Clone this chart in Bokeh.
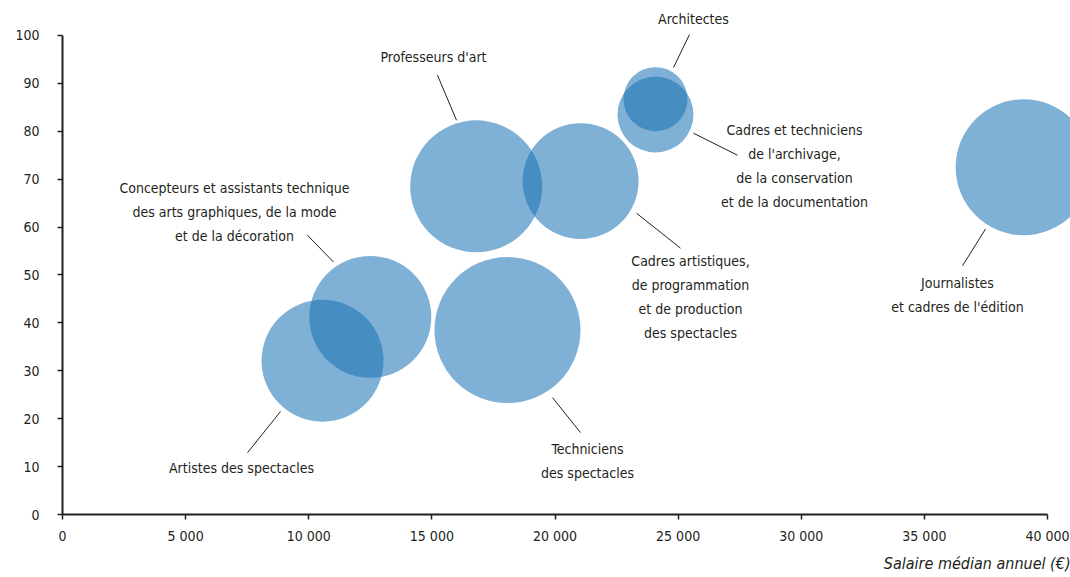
from bokeh.plotting import figure
from bokeh.models import Range1d, FixedTicker, ColumnDataSource, Title
from bokeh.core.properties import value
from bokeh.embed import file_html
from bokeh.resources import INLINE

# ---- data ----
categories = [
    "Artistes des spectacles",
    "Concepteurs et assistants technique des arts graphiques, de la mode et de la décoration",
    "Professeurs d'art",
    "Cadres artistiques, de programmation et de production des spectacles",
    "Techniciens des spectacles",
    "Architectes",
    "Cadres et techniciens de l'archivage, de la conservation et de la documentation",
    "Journalistes et cadres de l'édition",
]
salaire = [10560, 12500, 16800, 21040, 18070, 24080, 24080, 39030]
part = [32.1, 41.25, 68.5, 69.6, 38.5, 86.7, 83.5, 72.5]
rayon = [2477, 2477, 2680, 2355, 2965, 1300, 1543, 2761]

x_ticks = [0, 5000, 10000, 15000, 20000, 25000, 30000, 35000, 40000]
x_tick_labels = ["0", "5 000", "10 000", "15 000", "20 000", "25 000", "30 000", "35 000", "40 000"]
y_ticks = [0, 10, 20, 30, 40, 50, 60, 70, 80, 90, 100]

# label text lines, anchor (data coords) and leader lines (data coords)
label_lines = [
    ["Artistes des spectacles"],
    ["Concepteurs et assistants technique", "des arts graphiques, de la mode", "et de la décoration"],
    ["Professeurs d'art"],
    ["Cadres artistiques,", "de programmation", "et de production", "des spectacles"],
    ["Techniciens", "des spectacles"],
    ["Architectes"],
    ["Cadres et techniciens", "de l'archivage,", "de la conservation", "et de la documentation"],
    ["Journalistes", "et cadres de l'édition"],
]
label_x = [7269, 6985, 15066, 25503, 21320, 25624, 29726, 36345]
label_y = [9.8, 63.1, 95.6, 45.4, 11.25, 103.5, 72.7, 45.8]
leader_x0 = [8853, 9949, 15228, 23310, 19898, 25462, 25624, 37482]
leader_y0 = [21.5, 58.3, 91.7, 62.9, 24.4, 100.2, 79.6, 59.6]
leader_x1 = [7513, 11005, 16000, 25096, 21036, 24812, 27411, 36548]
leader_y1 = [12.9, 52.7, 82.3, 55.6, 17.1, 93.3, 75.0, 51.9]

FONT = "DejaVu Sans Condensed"
DARK = "#231f20"
LINE_STEP = 5.0  # vertical spacing between text lines, in y units

p = figure(width=1070, height=577, output_backend="svg", toolbar_location=None,
           x_range=Range1d(0, 40934), y_range=Range1d(0, 107.3),
           min_border_left=62, min_border_right=0, min_border_top=0, min_border_bottom=62)
p.outline_line_color = None
p.grid.visible = False
p.background_fill_color = "white"
p.border_fill_color = "white"

src = ColumnDataSource(dict(x=salaire, y=part, r=rayon, cat=categories))
p.circle(x="x", y="y", radius="r", radius_dimension="x", source=src,
         fill_color="#1971b3", fill_alpha=0.555, line_color=None)

p.segment(x0=leader_x0, y0=leader_y0, x1=leader_x1, y1=leader_y1,
          line_color=DARK, line_width=1)

tx, ty, tt = [], [], []
for lines, cx, cy in zip(label_lines, label_x, label_y):
    n = len(lines)
    for i, s in enumerate(lines):
        tx.append(cx)
        ty.append(cy + (n - 1) / 2 * LINE_STEP - i * LINE_STEP)
        tt.append(s)
p.text(x=tx, y=ty, text=tt, text_align="center", text_baseline="middle",
       text_font=value(FONT), text_font_size="14px", text_color=DARK)

for ax in (p.xaxis[0], p.yaxis[0]):
    ax.axis_line_color = DARK
    ax.axis_line_width = 2
    ax.major_tick_line_color = DARK
    ax.major_tick_line_width = 1.5
    ax.major_tick_out = 5
    ax.major_tick_in = 0
    ax.minor_tick_line_color = None
    ax.major_label_text_font = FONT
    ax.major_label_text_font_size = "14px"
    ax.major_label_text_color = DARK

p.xaxis.ticker = FixedTicker(ticks=x_ticks)
p.xaxis.major_label_overrides = {t: l for t, l in zip(x_ticks, x_tick_labels)}
p.xaxis.bounds = (0, 40000)
p.xaxis.major_label_standoff = 8
p.yaxis.ticker = FixedTicker(ticks=y_ticks)
p.yaxis.bounds = (0, 100)
p.yaxis.major_label_standoff = 18

p.add_layout(Title(text="Salaire médian annuel (€)", align="right",
                   text_font=FONT, text_font_style="italic",
                   text_font_size="16px", text_color=DARK), "below")

open("out.html", "w").write(file_html(p, INLINE))
